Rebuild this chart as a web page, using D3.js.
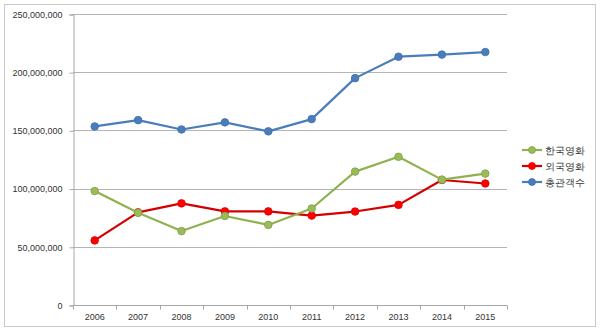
<!DOCTYPE html>
<html>
<head>
<meta charset="utf-8">
<script src="https://cdn.jsdelivr.net/npm/d3@7"></script>
<style>
  html, body { margin: 0; padding: 0; background: #fff; }
  svg { display: block; }
  text { font-family: "Liberation Sans", Arial, sans-serif; }
</style>
</head>
<body>
<svg id="chart" width="600" height="333"></svg>
<script>
// Annual film admissions, 2006–2015
const years = ["2006","2007","2008","2009","2010","2011","2012","2013","2014","2015"];
const korean  = [97900000, 79200000, 63500000, 76500000, 68800000, 82900000, 114600000, 127300000, 107700000, 112900000];
const foreign = [55500000, 79600000, 87300000, 80400000, 80400000, 76800000, 80300000, 86000000, 107400000, 104400000];
const total   = [153400000, 158800000, 150800000, 156900000, 149200000, 159700000, 194900000, 213300000, 215100000, 217300000];
const yTicks  = [0, 50000000, 100000000, 150000000, 200000000, 250000000];

const seriesNames = ["한국영화", "외국영화", "총관객수"];
const series = [
  { name: seriesNames[0], values: korean,  line: "#8fb24f", fill: "#9bbb59", stroke: "#7f9f4a" },
  { name: seriesNames[1], values: foreign, line: "#d40000", fill: "#ff0000", stroke: "#e00000" },
  { name: seriesNames[2], values: total,   line: "#4a7ebb", fill: "#4a7ebb", stroke: "#3f6fa8" }
];

const svg = d3.select("#chart");

// outer frame
svg.append("rect")
  .attr("x", 4.5).attr("y", 4.5).attr("width", 591).attr("height", 322)
  .attr("fill", "#fff").attr("stroke", "#c8c8c8").attr("stroke-width", 1);

const x = d3.scaleBand().domain(years).range([73, 507]);
const y = d3.scaleLinear().domain([0, 250000000]).range([305, 14]);

// horizontal gridlines
svg.append("g").selectAll("line").data(yTicks.slice(1)).join("line")
  .attr("x1", 73).attr("x2", 507)
  .attr("y1", d => Math.round(y(d)) + 0.5).attr("y2", d => Math.round(y(d)) + 0.5)
  .attr("stroke", "#b4b4b4").attr("stroke-width", 1);

// y axis
const yAxis = svg.append("g").attr("transform", "translate(73.5,0.5)")
  .call(d3.axisLeft(y).tickValues(yTicks).tickSize(4).tickPadding(7)
    .tickFormat(d => d3.format(",")(d)));
yAxis.select(".domain").attr("stroke", "#a8a8a8");
yAxis.selectAll(".tick line").attr("stroke", "#a8a8a8");
yAxis.selectAll("text").attr("font-size", 9).attr("fill", "#333");

// x axis
const xAxis = svg.append("g").attr("transform", "translate(0,305.5)")
  .call(d3.axisBottom(x).tickSize(0).tickPadding(8));
xAxis.select(".domain").attr("stroke", "#a8a8a8").attr("d", "M73,0H507");
xAxis.selectAll("text").attr("font-size", 9).attr("fill", "#333");
// boundary ticks between categories
svg.append("g").selectAll("line")
  .data(years.map(d => x(d)).concat([x(years[years.length - 1]) + x.bandwidth()]))
  .join("line")
  .attr("x1", d => Math.round(d) + 0.5).attr("x2", d => Math.round(d) + 0.5)
  .attr("y1", 305.5).attr("y2", 309.5)
  .attr("stroke", "#a8a8a8");

const cx = d => x(d) + x.bandwidth() / 2;
const line = d3.line().x((v, i) => cx(years[i])).y(v => y(v));

// draw total first, then foreign, then korean on top
const drawOrder = [series[2], series[1], series[0]];
drawOrder.forEach(s => {
  const g = svg.append("g");
  g.append("path").datum(s.values)
    .attr("d", line).attr("fill", "none")
    .attr("stroke", s.line).attr("stroke-width", 2.2)
    .attr("stroke-linejoin", "round");
  g.selectAll("circle").data(s.values).join("circle")
    .attr("cx", (v, i) => cx(years[i])).attr("cy", v => y(v))
    .attr("r", 3.8).attr("fill", s.fill)
    .attr("stroke", s.stroke).attr("stroke-width", 0.8);
});

// legend
const legend = svg.append("g");
series.forEach((s, i) => {
  const ly = 150 + i * 16;
  legend.append("line").attr("x1", 522).attr("x2", 542).attr("y1", ly).attr("y2", ly)
    .attr("stroke", s.line).attr("stroke-width", 2.2);
  legend.append("circle").attr("cx", 532).attr("cy", ly).attr("r", 3.5)
    .attr("fill", s.fill).attr("stroke", s.stroke).attr("stroke-width", 0.8);
  legend.append("text").attr("x", 545).attr("y", ly).attr("dy", "0.35em")
    .attr("font-family", "'Noto Sans CJK KR', sans-serif")
    .attr("font-size", 10).attr("fill", "#333").text(s.name);
});
</script>
</body>
</html>
